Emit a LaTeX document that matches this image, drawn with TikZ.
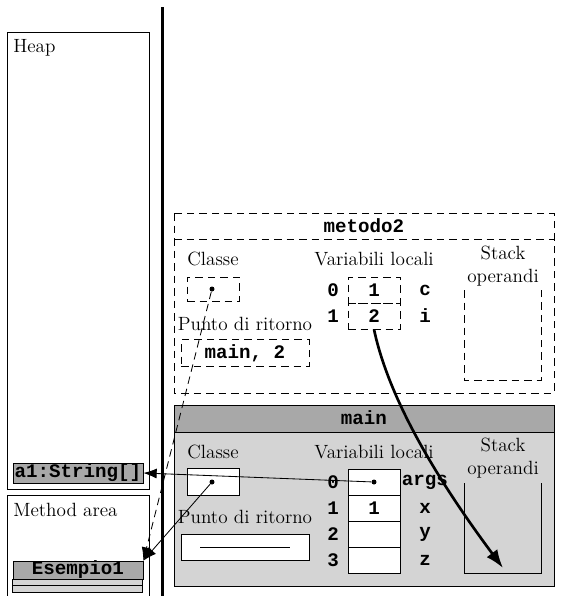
\documentclass[tikz,border=0pt]{standalone}
\usepackage{fontspec}
\setmonofont{Liberation Mono}
\usetikzlibrary{arrows.meta, positioning}
\definecolor{barGrey}{RGB}{168,168,168}
\definecolor{frameGrey}{RGB}{212,212,212}
\newcommand{\px}{0.6pt}

\begin{document}
\begin{tikzpicture}[x=0.6pt, y=-0.6pt, font=\fontsize{11.5}{13.5}\selectfont,
    every node/.style={inner sep=0pt},
    tt/.style={font=\fontsize{11.5}{13}\selectfont\ttfamily\bfseries},
    dashline/.style={dash pattern=on 4.5pt off 3pt},
    area/.style={draw, line width=0.6pt},
    obj/.style={draw, tt, fill=barGrey, minimum width=130*\px},
    cell/.style={draw, fill=white, tt, minimum width=52*\px, minimum height=26*\px},
    dcell/.style={draw, dashline, tt, minimum width=52*\px, minimum height=26*\px},
    dot/.style={circle, fill, minimum size=5*\px},
    ptr/.style={-{Latex[length=8pt, width=6pt]}, line width=0.5pt},
    jump/.style={-{Latex[length=11pt, width=8pt]}, line width=1.6pt}]
  \useasboundingbox (0,0) rectangle (564,596);

  % Heap and method area
  \draw[area] (7,32) rectangle (149,489);
  \node[anchor=west] (heaplbl) at (13,48) {Heap};
  \node[obj, minimum height=20*\px] (arr) at (78,473) {a1:String[]};
  \draw[area] (7,495) rectangle (149,600);
  \node[anchor=west] (malbl) at (13,510) {Method area};
  \node[obj, minimum height=18*\px] (es) at (78,570) {Esempio1};
  \draw[fill=frameGrey] (es.south west) rectangle ++(130,6) rectangle ++(-130,7);

  % thread separator
  \draw[line width=1.8pt] (162,7) -- (162,600);

  % frame metodo2
  \draw[dashline] (174,213) rectangle (554,393);
  \draw[dashline] (174,239) -- (554,239);
  \node[tt] (m2title) at (364,226) {metodo2};
  \node (m2cllbl) at (213,259) {Classe};
  \node[dcell, minimum height=24*\px] (m2clbox) at (213,289) {};
  \node[dot] (m2cl) at (212,289) {};
  \node (m2prlbl) at (245,324) {Punto di ritorno};
  \node[dcell, minimum width=128*\px, minimum height=27*\px] (m2ret) at (245,353) {main, 2};
  \node (m2vlbl) at (374,259) {Variabili locali};
  \foreach \v/\n [count=\i from 0] in {1/c, 2/i}{
    \node[dcell] (m2v\i) at (374,290+26*\i) {\v};
    \node[tt] (m2idx\i) at (333,290+26*\i) {\i};
    \node[tt] (m2nm\i) at (425,290+26*\i) {\n};
  }
  \node[align=center] (m2stlbl) at (503,266) {Stack\\operandi};
  \draw[dashline] (464,290) -- (464,380) -- (541,380) -- (541,290);

  % frame main
  \draw[fill=frameGrey] (174,405) rectangle (554,586);
  \draw[fill=barGrey] (174,405) rectangle (554,432);
  \node[tt] (mtitle) at (364,418) {main};
  \node (mcllbl) at (213,452) {Classe};
  \node[cell, minimum height=27*\px] (mclbox) at (213,482) {};
  \node[dot] (mcl) at (212,482) {};
  \node (mprlbl) at (245,517) {Punto di ritorno};
  \node[cell, minimum width=128*\px] (mret) at (245,547) {};
  \draw ([xshift=-45*\px]mret.center) -- ([xshift=45*\px]mret.center);
  \node (mvlbl) at (374,452) {Variabili locali};
  \foreach \v/\n [count=\i from 0] in {/args, 1/x, /y, /z}{
    \node[cell] (mv\i) at (374,482+26*\i) {\v};
    \node[tt] (midx\i) at (333,482+26*\i) {\i};
    \node[tt] (mnm\i) at (425,482+26*\i) {\n};
  }
  \node[dot] (margs) at (mv0) {};
  \node[align=center] (mstlbl) at (503,458) {Stack\\operandi};
  \draw (464,483) -- (464,573) -- (541,573) -- (541,483);
  \coordinate (mtop) at (503,568);

  % references
  \draw[ptr] (margs) -- (arr.east);
  \draw[ptr] (mcl) -- (es.north east);
  \draw[ptr, dashline] (m2cl) -- (es.north east);
  \draw[jump] (m2v1.south) .. controls (390,405) and (445,490) .. (mtop);
\end{tikzpicture}
\end{document}
